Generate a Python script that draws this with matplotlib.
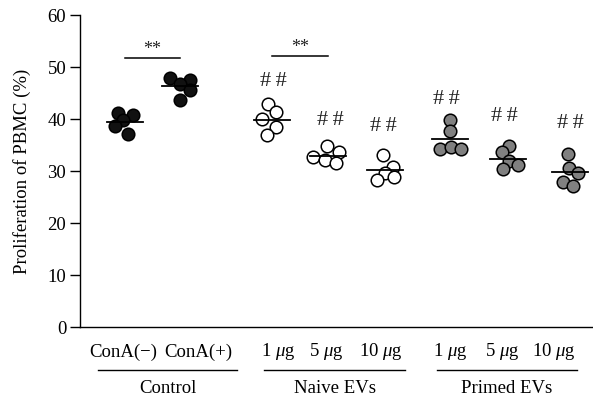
import matplotlib
matplotlib.use("Agg")
import matplotlib.pyplot as plt
import matplotlib.transforms as mtransforms

plt.rcParams['font.family'] = ['Liberation Serif', 'DejaVu Serif']
plt.rcParams['mathtext.fontset'] = 'custom'
plt.rcParams['mathtext.rm'] = 'Liberation Serif'
plt.rcParams['mathtext.it'] = 'Liberation Serif:italic'

# group centres on the x axis
positions = [0.9, 2.0, 3.84, 4.96, 6.1, 7.4, 8.56, 9.8]
tick_labels = ['ConA(−)', 'ConA(+)', r'1 $\mu$g', r'5 $\mu$g', r'10 $\mu$g',
               r'1 $\mu$g', r'5 $\mu$g', r'10 $\mu$g']
tick_label_x = [0.86, 2.36, 3.96, 4.92, 6.02, 7.4, 8.44, 9.48]
face_colors = ['#111111', '#111111', 'white', 'white', 'white',
               '#808080', '#808080', '#808080']

# proliferation (%) per replicate
conA_neg = [41.2, 40.8, 39.8, 38.6, 37.1]
conA_pos = [47.8, 47.5, 46.7, 45.6, 43.7]
naive_1 = [42.8, 41.3, 40.0, 38.5, 36.9]
naive_5 = [34.9, 33.6, 32.6, 32.1, 31.5]
naive_10 = [33.1, 30.8, 29.6, 28.3, 28.8]
primed_1 = [39.8, 37.6, 34.2, 34.7, 34.2]
primed_5 = [34.8, 33.7, 32.0, 31.2, 30.3]
primed_10 = [33.3, 30.6, 29.7, 27.9, 27.2]
groups = [conA_neg, conA_pos, naive_1, naive_5, naive_10, primed_1, primed_5, primed_10]

# horizontal spread of the dots within each group
spread = [
    [-0.14, 0.16, -0.04, -0.2, 0.06],
    [-0.2, 0.2, 0.0, 0.2, 0.0],
    [-0.08, 0.08, -0.2, 0.08, -0.1],
    [-0.02, 0.22, -0.3, -0.06, 0.16],
    [-0.04, 0.16, 0.0, -0.16, 0.18],
    [0.0, 0.0, -0.2, 0.02, 0.22],
    [0.02, -0.12, 0.02, 0.2, -0.1],
    [-0.04, -0.02, 0.16, -0.14, 0.06],
]

# "##" marks versus ConA(+), and "**" brackets
hash_y = [None, None, 47.2, 39.8, 38.5, 43.7, 40.4, 39.2]
hash_x = [None, None, 3.86, 5.0, 6.06, 7.32, 8.48, 9.8]
star_pairs = [(0, 1), (2, 3)]
star_line_y = [51.7, 52.1]

# group labels under the axis
group_names = ['Control', 'Naive EVs', 'Primed EVs']
group_spans = [(0.36, 3.14), (3.68, 6.5), (7.14, 9.94)]

fig = plt.figure(figsize=(5.93, 4.0), dpi=100)
ax = fig.add_axes([0.135, 0.1825, 0.865, 0.78])

for i, vals in enumerate(groups):
    xs = [positions[i] + s for s in spread[i]]
    ax.scatter(xs, vals, s=82, facecolor=face_colors[i], edgecolor='black',
               linewidth=1.1, zorder=3, clip_on=False)
    mean = sum(vals) / len(vals)
    ax.plot([positions[i] - 0.36, positions[i] + 0.36], [mean, mean],
            color='black', linewidth=1.3, zorder=4)
    if hash_y[i] is not None:
        ax.text(hash_x[i], hash_y[i], '#\u2009#', ha='center', va='center',
                fontsize=16, color='#222222')

for (a, b), ly in zip(star_pairs, star_line_y):
    ax.plot([positions[a], positions[b]], [ly, ly], color='black', linewidth=1.1)
    ax.text((positions[a] + positions[b]) / 2, ly + 1.6, '**', ha='center',
            va='center', fontsize=13, color='#222222')

ax.set_xlim(0, 10.26)
ax.set_ylim(0, 60)
ax.set_yticks(range(0, 61, 10))
ax.set_xticks([])
ax.tick_params(axis='y', direction='out', length=7, width=1, pad=3, labelsize=13.5)
ax.set_ylabel('Proliferation of PBMC (%)', fontsize=13.5, labelpad=12)
for side in ['top', 'right']:
    ax.spines[side].set_visible(False)
for side in ['left', 'bottom']:
    ax.spines[side].set_linewidth(1.0)

trans = mtransforms.blended_transform_factory(ax.transData, ax.transAxes)
for x, lab in zip(tick_label_x, tick_labels):
    ax.text(x, -0.08, lab, transform=trans, ha='center', va='center', fontsize=13.5)

for name, (x0, x1) in zip(group_names, group_spans):
    ax.plot([x0, x1], [-0.138, -0.138], transform=trans, color='black',
            linewidth=1.0, clip_on=False)
    ax.text((x0 + x1) / 2, -0.198, name, transform=trans, ha='center',
            va='center', fontsize=13.5)

fig.savefig('out.png', dpi=100)
